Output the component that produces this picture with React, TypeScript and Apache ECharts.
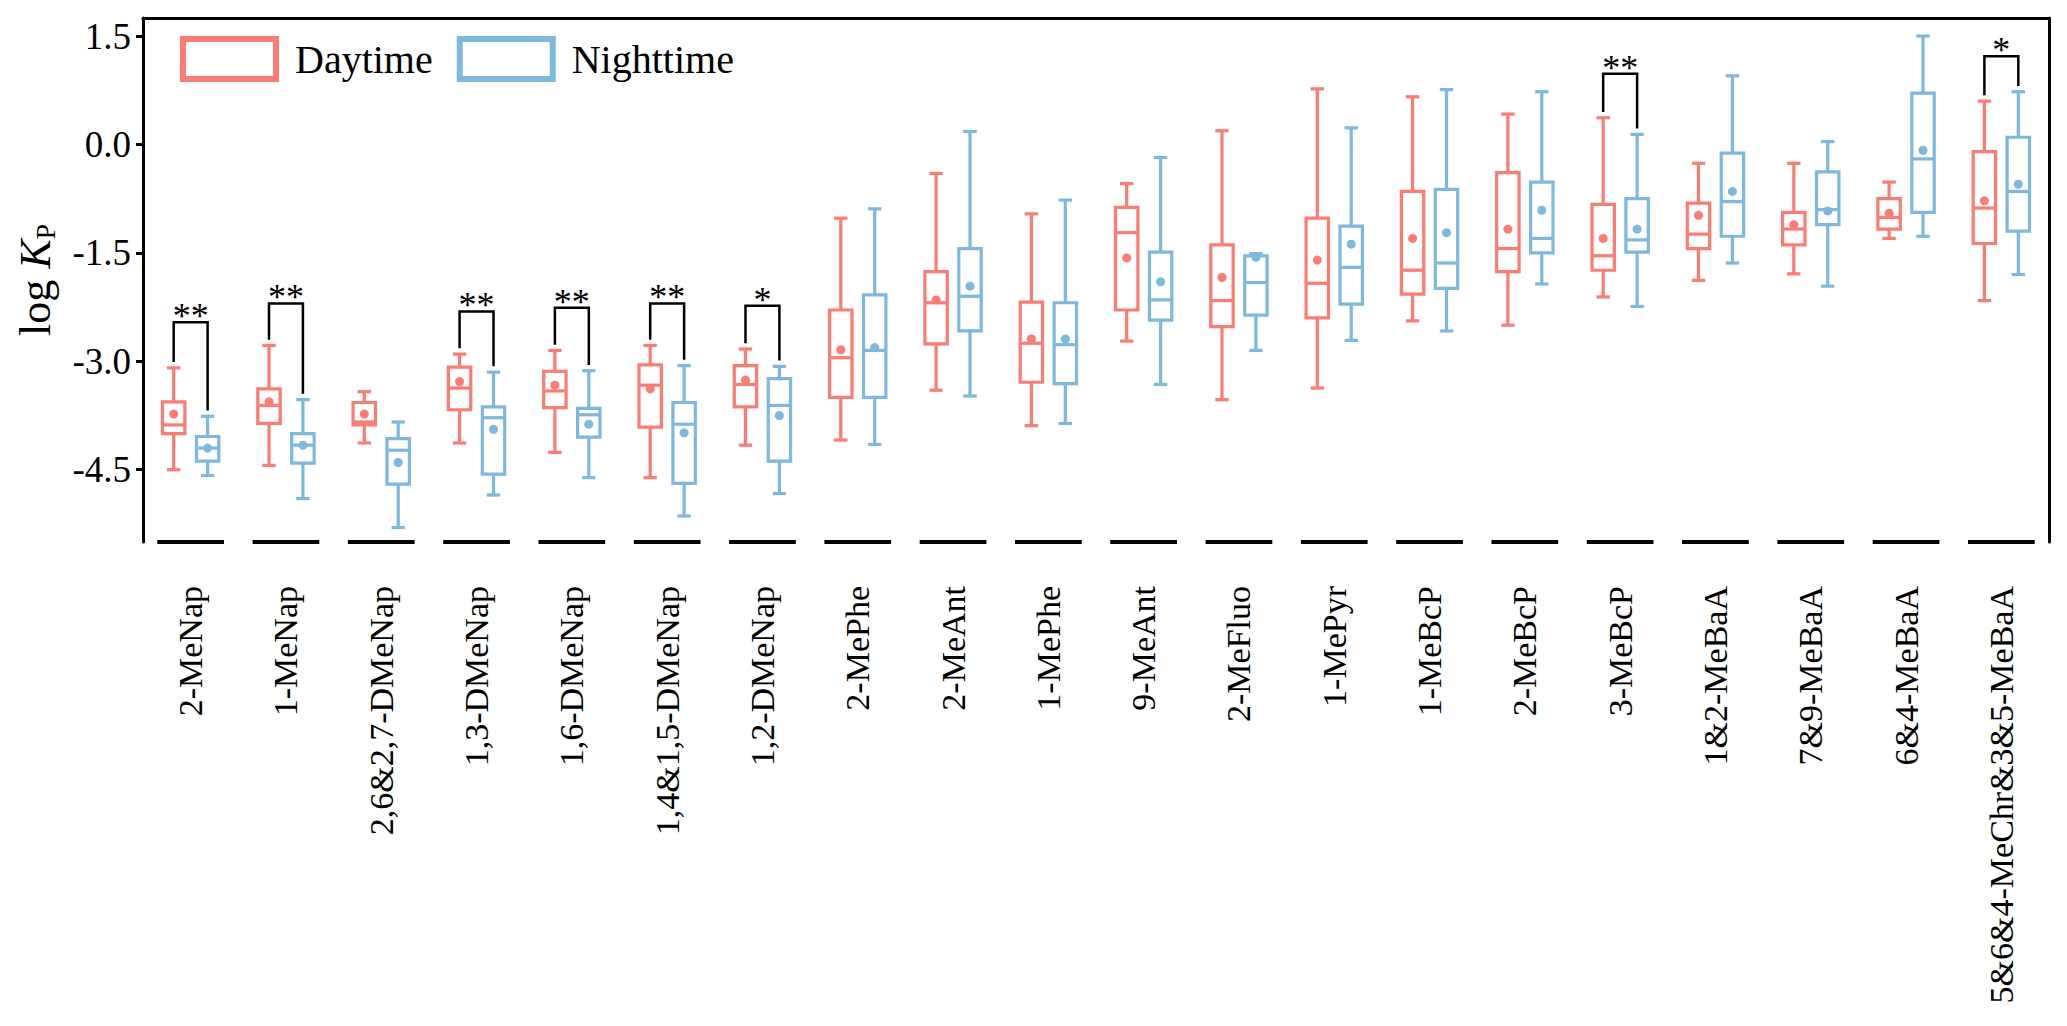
import React, { useEffect, useRef } from 'react';
import * as echarts from 'echarts';

// ---------- data ----------
const categories = [
  '2-MeNap', '1-MeNap', '2,6&2,7-DMeNap', '1,3-DMeNap', '1,6-DMeNap',
  '1,4&1,5-DMeNap', '1,2-DMeNap', '2-MePhe', '2-MeAnt', '1-MePhe',
  '9-MeAnt', '2-MeFluo', '1-MePyr', '1-MeBcP', '2-MeBcP',
  '3-MeBcP', '1&2-MeBaA', '7&9-MeBaA', '6&4-MeBaA', '5&6&4-MeChr&3&5-MeBaA',
];

// [min, Q1, median, Q3, max]
const dayBox = [
  [-4.50, -4.00, -3.88, -3.56, -3.09],
  [-4.44, -3.86, -3.61, -3.38, -2.78],
  [-4.13, -3.88, -3.84, -3.57, -3.42],
  [-4.13, -3.67, -3.37, -3.08, -2.90],
  [-4.26, -3.64, -3.41, -3.14, -2.85],
  [-4.61, -3.91, -3.33, -3.05, -2.78],
  [-4.16, -3.63, -3.32, -3.06, -2.83],
  [-4.09, -3.50, -2.95, -2.29, -1.02],
  [-3.40, -2.76, -2.19, -1.76, -0.40],
  [-3.89, -3.29, -2.75, -2.18, -0.96],
  [-2.72, -2.29, -1.22, -0.87, -0.54],
  [-3.53, -2.52, -2.16, -1.39, 0.19],
  [-3.37, -2.40, -1.92, -1.02, 0.77],
  [-2.44, -2.07, -1.74, -0.65, 0.66],
  [-2.50, -1.76, -1.44, -0.39, 0.42],
  [-2.11, -1.74, -1.54, -0.83, 0.37],
  [-1.88, -1.44, -1.24, -0.81, -0.26],
  [-1.79, -1.39, -1.17, -0.94, -0.26],
  [-1.30, -1.17, -1.01, -0.75, -0.52],
  [-2.16, -1.37, -0.88, -0.10, 0.60],
];
const dayMean = [
  -3.73, -3.56, -3.73, -3.28, -3.33, -3.38, -3.26, -2.84, -2.15, -2.69,
  -1.57, -1.84, -1.60, -1.30, -1.17, -1.30, -0.98, -1.11, -0.95, -0.78,
];

const nightBox = [
  [-4.58, -4.38, -4.20, -4.04, -3.76],
  [-4.90, -4.41, -4.16, -4.00, -3.53],
  [-5.30, -4.70, -4.23, -4.07, -3.84],
  [-4.85, -4.56, -3.78, -3.63, -3.15],
  [-4.61, -4.05, -3.74, -3.65, -3.13],
  [-5.14, -4.69, -3.87, -3.57, -3.06],
  [-4.83, -4.38, -3.61, -3.24, -3.07],
  [-4.15, -3.50, -2.85, -2.08, -0.89],
  [-3.48, -2.58, -2.10, -1.44, 0.18],
  [-3.86, -3.31, -2.77, -2.19, -0.77],
  [-3.32, -2.43, -2.15, -1.49, -0.18],
  [-2.85, -2.36, -1.91, -1.54, -1.51],
  [-2.71, -2.21, -1.70, -1.13, 0.23],
  [-2.58, -1.99, -1.64, -0.62, 0.76],
  [-1.93, -1.50, -1.30, -0.52, 0.73],
  [-2.24, -1.49, -1.32, -0.75, 0.14],
  [-1.64, -1.27, -0.79, -0.12, 0.95],
  [-1.96, -1.11, -0.90, -0.38, 0.04],
  [-1.27, -0.94, -0.20, 0.71, 1.50],
  [-1.80, -1.20, -0.65, 0.10, 0.73],
];
const nightMean = [
  -4.20, -4.16, -4.40, -3.94, -3.87, -3.99, -3.75, -2.81, -1.96, -2.69,
  -1.90, -1.56, -1.38, -1.22, -0.91, -1.17, -0.65, -0.92, -0.08, -0.55,
];

// significance brackets
const sigIndex = [0, 1, 3, 4, 5, 6, 15, 19];
const sigMark = ['**', '**', '**', '**', '**', '*', '**', '*'];
const sigTop = [-2.46, -2.20, -2.31, -2.26, -2.20, -2.23, 0.98, 1.22];

const yTicks = [-4.5, -3.0, -1.5, 0.0, 1.5];
const Y_MIN = -5.5;
const Y_MAX = 1.75;

// ---------- styles ----------
const RED = '#FF7A72';
const BLUE = '#7BB9DE';
const FONT = '"Liberation Serif", "Times New Roman", serif';
const OFFSET = 0.178; // fraction of band
const BOX_W = 0.235;
const CAP_W = 0.14;

function boxRender(sign: number, color: string) {
  return (params: any, api: any) => {
    const i = api.value(0);
    const band = api.size([1, 0])[0];
    const cx = api.coord([i, 0])[0] + sign * band * OFFSET;
    const yv = (k: number) => api.coord([i, api.value(k)])[1];
    const yMin = yv(1), yQ1 = yv(2), yMed = yv(3), yQ3 = yv(4), yMax = yv(5), yMean = yv(6);
    const w = band * BOX_W;
    const cap = band * CAP_W;
    const st = { stroke: color, lineWidth: 3.2, fill: 'none' };
    return {
      type: 'group',
      children: [
        { type: 'line', shape: { x1: cx, y1: yMax, x2: cx, y2: yQ3 }, style: st },
        { type: 'line', shape: { x1: cx, y1: yQ1, x2: cx, y2: yMin }, style: st },
        { type: 'line', shape: { x1: cx - cap / 2, y1: yMax, x2: cx + cap / 2, y2: yMax }, style: st },
        { type: 'line', shape: { x1: cx - cap / 2, y1: yMin, x2: cx + cap / 2, y2: yMin }, style: st },
        { type: 'rect', shape: { x: cx - w / 2, y: yQ3, width: w, height: yQ1 - yQ3 }, style: st },
        { type: 'line', shape: { x1: cx - w / 2, y1: yMed, x2: cx + w / 2, y2: yMed }, style: st },
        { type: 'circle', shape: { cx, cy: yMean, r: 4.5 }, style: { fill: color, stroke: 'none' } },
      ],
    };
  };
}

function segRender(params: any, api: any) {
  const i = api.value(0);
  const band = api.size([1, 0])[0];
  const p = api.coord([i, api.value(1)]);
  return {
    type: 'line',
    shape: { x1: p[0] - band * 0.35, y1: p[1], x2: p[0] + band * 0.35, y2: p[1] },
    style: { stroke: '#000', lineWidth: 4 },
  };
}

function bracketRender(params: any, api: any) {
  const i = api.value(0);
  const band = api.size([1, 0])[0];
  const c = api.coord([i, 0])[0];
  const xl = c - band * OFFSET;
  const xr = c + band * OFFSET;
  const yl = api.coord([i, api.value(1) + 0.08])[1];
  const yr = api.coord([i, api.value(2) + 0.08])[1];
  const yt = api.coord([i, api.value(3)])[1];
  return {
    type: 'group',
    children: [
      {
        type: 'polyline',
        shape: { points: [[xl, yl], [xl, yt], [xr, yt], [xr, yr]] },
        style: { stroke: '#000', lineWidth: 2.5, fill: 'none' },
      },
      {
        type: 'text',
        x: c,
        y: yt - 6,
        style: {
          text: sigMark[params.dataIndex],
          fontSize: 36,
          fontFamily: FONT,
          fill: '#000',
          align: 'center',
          verticalAlign: 'middle',
        },
      },
    ],
  };
}

export default function App() {
  const ref = useRef<HTMLDivElement>(null);

  useEffect(() => {
    if (!ref.current) return;
    const chart = echarts.init(ref.current, null, { renderer: 'svg' });

    const dayData = categories.map((_, i) => [i, ...dayBox[i], dayMean[i]]);
    const nightData = categories.map((_, i) => [i, ...nightBox[i], nightMean[i]]);
    const segData = categories.map((_, i) => [i, Y_MIN]);
    const bracketData = sigIndex.map((ci, k) => [ci, dayBox[ci][4], nightBox[ci][4], sigTop[k]]);

    chart.setOption({
      animation: false,
      grid: { left: 143, right: 18, top: 18, bottom: 484, containLabel: false },
      legend: {
        left: 180,
        top: 36,
        padding: 0,
        itemWidth: 93,
        itemHeight: 40,
        itemGap: 24,
        selectedMode: false,
        formatter: (name: string) => '{t|' + name + '}',
        textStyle: {
          color: '#000',
          fontFamily: FONT,
          fontSize: 40,
          rich: { t: { fontFamily: FONT, fontSize: 40, color: '#000', padding: [0, 0, 0, 14] } },
        },
        data: [
          { name: 'Daytime', icon: 'rect', itemStyle: { color: '#fff', borderColor: RED, borderWidth: 6 } },
          { name: 'Nighttime', icon: 'rect', itemStyle: { color: '#fff', borderColor: BLUE, borderWidth: 6 } },
        ],
      },
      xAxis: [
        {
          type: 'category',
          data: categories,
          position: 'bottom',
          axisLine: { show: false, onZero: false },
          axisTick: { show: false },
          splitLine: { show: false },
          axisLabel: {
            interval: 0,
            rotate: 90,
            margin: 44,
            fontSize: 34,
            fontFamily: FONT,
            color: '#000',
          },
        },
        {
          type: 'category',
          data: categories,
          position: 'top',
          axisLine: { show: true, onZero: false, lineStyle: { color: '#000', width: 3 } },
          axisTick: { show: false },
          axisLabel: { show: false },
          splitLine: { show: false },
        },
      ],
      yAxis: [
        {
          type: 'value',
          min: Y_MIN,
          max: Y_MAX,
          position: 'left',
          axisLine: { show: true, onZero: false, lineStyle: { color: '#000', width: 3 } },
          axisTick: { show: true, customValues: yTicks, length: 7, lineStyle: { color: '#000', width: 3 } },
          axisLabel: {
            customValues: yTicks,
            formatter: (v: number) => v.toFixed(1),
            fontSize: 37,
            fontFamily: FONT,
            color: '#000',
            margin: 12,
          },
          splitLine: { show: false },
          name: '{a|log }{b|K}{c|P}',
          nameLocation: 'middle',
          nameRotate: 90,
          nameGap: 84,
          nameTextStyle: {
            fontFamily: FONT,
            fontSize: 44,
            color: '#000',
            rich: {
              a: { fontFamily: FONT, fontSize: 44, color: '#000', lineHeight: 48 },
              b: { fontFamily: FONT, fontSize: 44, fontStyle: 'italic', color: '#000', lineHeight: 48 },
              c: { fontFamily: FONT, fontSize: 28, color: '#000', verticalAlign: 'bottom', lineHeight: 16 },
            },
          },
        },
        {
          type: 'value',
          min: Y_MIN,
          max: Y_MAX,
          position: 'right',
          axisLine: { show: true, onZero: false, lineStyle: { color: '#000', width: 3 } },
          axisTick: { show: false },
          axisLabel: { show: false },
          splitLine: { show: false },
        },
      ],
      series: [
        {
          type: 'custom',
          name: 'axisSegments',
          coordinateSystem: 'cartesian2d',
          xAxisIndex: 0,
          yAxisIndex: 0,
          data: segData,
          encode: { x: 0, y: 1 },
          renderItem: segRender,
          silent: true,
          z: 1,
        },
        {
          type: 'custom',
          name: 'Daytime',
          coordinateSystem: 'cartesian2d',
          xAxisIndex: 0,
          yAxisIndex: 0,
          data: dayData,
          encode: { x: 0, y: [1, 2, 3, 4, 5] },
          itemStyle: { color: RED },
          renderItem: boxRender(-1, RED),
          z: 2,
        },
        {
          type: 'custom',
          name: 'Nighttime',
          coordinateSystem: 'cartesian2d',
          xAxisIndex: 0,
          yAxisIndex: 0,
          data: nightData,
          encode: { x: 0, y: [1, 2, 3, 4, 5] },
          itemStyle: { color: BLUE },
          renderItem: boxRender(1, BLUE),
          z: 2,
        },
        {
          type: 'custom',
          name: 'significance',
          coordinateSystem: 'cartesian2d',
          xAxisIndex: 0,
          yAxisIndex: 0,
          data: bracketData,
          encode: { x: 0, y: 3 },
          renderItem: bracketRender,
          silent: true,
          z: 3,
        },
      ],
    });

    return () => {
      chart.dispose();
    };
  }, []);

  return (
    <div
      ref={ref}
      style={{ position: 'absolute', left: 0, top: 0, width: 2067, height: 1026, background: '#fff' }}
    />
  );
}
